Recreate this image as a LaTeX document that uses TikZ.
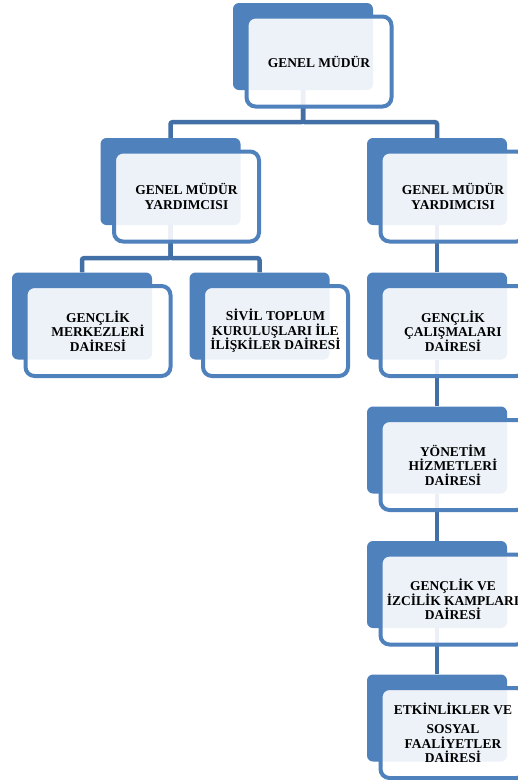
\documentclass[tikz,border=0pt]{standalone}
\usepackage{fontspec}
\setmainfont{Liberation Serif}
\usepackage{tikz}
\usetikzlibrary{positioning}
\definecolor{boxblue}{RGB}{79,129,189}
\definecolor{linkblue}{RGB}{66,112,166}

\begin{document}
\begin{tikzpicture}[x=1pt,y=-1pt,
  backbox/.style={fill=boxblue,rounded corners=6pt,minimum width=140pt,minimum height=87pt,inner sep=0pt},
  frontbox/.style={draw=boxblue,line width=4pt,fill=white,fill opacity=0.9,text opacity=1,rounded corners=9pt,
    minimum width=145pt,minimum height=90pt,inner sep=0pt,align=center,
    font=\fontsize{13.5}{14.5}\selectfont\bfseries,xshift=16pt,yshift=-15pt},
  link/.style={draw=linkblue,line width=4.5pt,rounded corners=2pt}]
\clip (0,0) rectangle (518,780);
\fill[white] (0,0) rectangle (518,780);
\node[backbox] (gm) at (303,46.5) {};
\node[backbox] (gy1) at (170.5,181.5) {};
\node[backbox] (gy2) at (437,181.5) {};
\node[backbox] (gmd) at (82,316) {};
\node[backbox] (stk) at (259.5,316) {};
\node[backbox] (gcd) at (437,316) {};
\node[backbox] (yhd) at (437,450) {};
\node[backbox] (gkd) at (437,584.5) {};
\node[backbox] (esf) at (437,718) {};
\draw[link] (gm.south) -- ++(0,32) -| (gy1.north);
\draw[link] (gm.south) -- ++(0,32) -| (gy2.north);
\draw[link] (gy1.south) -- ++(0,33) -| (gmd.north);
\draw[link] (gy1.south) -- ++(0,33) -| (stk.north);
\draw[link] (gy2.south) -- (gcd.north);
\draw[link] (gcd.south) -- (yhd.north);
\draw[link] (yhd.south) -- (gkd.north);
\draw[link] (gkd.south) -- (esf.north);
\node[frontbox] (gmF) at (gm) {GENEL MÜDÜR};
\node[frontbox] (gy1F) at (gy1) {GENEL MÜDÜR\\YARDIMCISI};
\node[frontbox] (gy2F) at (gy2) {GENEL MÜDÜR\\YARDIMCISI};
\node[frontbox] (gmdF) at (gmd) {GENÇLİK\\MERKEZLERİ\\DAİRESİ};
\node[frontbox] (stkF) at (stk) {SİVİL TOPLUM\\KURULUŞLARI İLE\\İLİŞKİLER DAİRESİ};
\node[frontbox] (gcdF) at (gcd) {GENÇLİK\\ÇALIŞMALARI\\DAİRESİ};
\node[frontbox] (yhdF) at (yhd) {YÖNETİM\\HİZMETLERİ\\DAİRESİ};
\node[frontbox] (gkdF) at (gkd) {GENÇLİK VE\\İZCİLİK KAMPLARI\\DAİRESİ};
\node[frontbox] (esfF) at (esf) {ETKİNLİKLER VE\\[5pt]SOSYAL\\FAALİYETLER\\DAİRESİ};
\end{tikzpicture}
\end{document}
